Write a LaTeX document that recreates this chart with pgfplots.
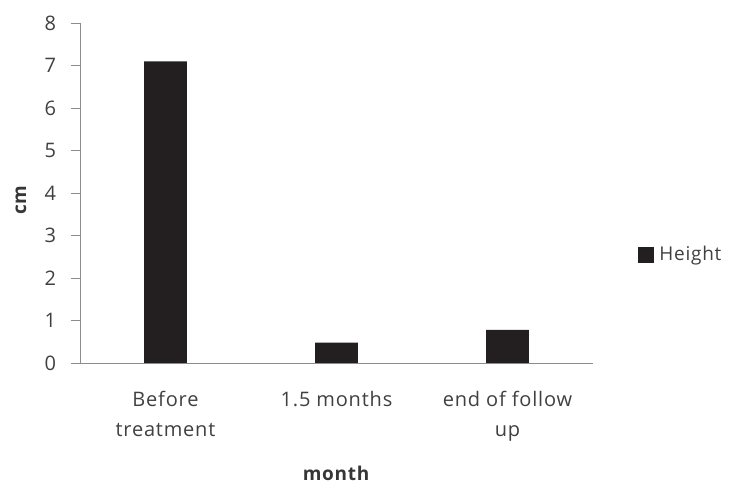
\documentclass[border=0pt]{standalone}
\usepackage{fontspec}
\setmainfont{Open Sans}[LetterSpace=4]
\usepackage{pgfplots}
\pgfplotsset{compat=1.18}
\definecolor{txt}{HTML}{404040}
\definecolor{axgray}{HTML}{8C8C8C}
\definecolor{barblk}{HTML}{231F20}

\begin{document}
\fontsize{20}{30}\selectfont
\begin{tikzpicture}
  \useasboundingbox (0pt,0pt) rectangle (734pt,486pt);
  \begin{axis}[
      at={(80pt,123pt)}, anchor=south west,
      scale only axis,
      width=513pt, height=340pt,
      xmin=-0.5, xmax=2.5,
      ymin=0, ymax=8,
      ytick={0,1,...,8},
      xtick={0,1,2},
      xticklabels={Before\\treatment, 1.5 months, end of follow\\up},
      axis lines*=left,
      axis line style={draw=axgray, line width=0.8pt},
      tick align=outside,
      major tick length=9pt,
      x tick style={draw=none},
      y tick style={draw=axgray, line width=0.8pt},
      /pgf/number format/assume math mode=true,
      tick label style={font=\fontsize{20}{30}\selectfont, text=txt},
      yticklabel style={anchor=east, xshift=-8pt},
      xticklabel style={align=center, anchor=north, yshift=-12pt},
      ylabel={\textbf{cm}},
      xlabel={\textbf{month}},
      label style={font=\fontsize{19}{23}\selectfont, text=txt!85!black},
      ylabel style={at={(axis description cs:-0.115,0.48)}, anchor=center},
      xlabel style={at={(axis description cs:0.5,-0.324)}, anchor=center},
      legend style={at={(axis description cs:1.088,0.318)}, anchor=west,
        draw=none, fill=none, inner sep=0pt,
        font=\fontsize{19}{23}\selectfont, text=txt},
      legend cell align=left,
      clip=false,
    ]
    \addplot[ybar, bar width=0.25, fill=barblk, draw=none,
      legend image code/.code={\fill[barblk] (0pt,-8pt) rectangle (16pt,8pt);
        \path (19pt,0pt);}]
      coordinates {(0,7.1) (1,0.48) (2,0.78)};
    \addlegendentry{Height}
  \end{axis}
\end{tikzpicture}
\end{document}
